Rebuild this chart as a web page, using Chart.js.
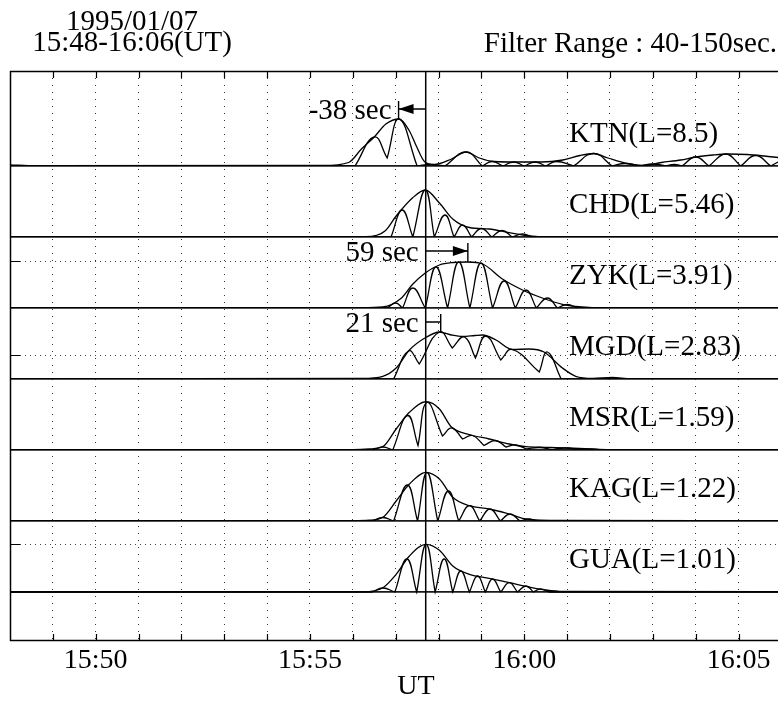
<!DOCTYPE html>
<html>
<head>
<meta charset="utf-8">
<title>1995/01/07 Pi2 filtered amplitude</title>
<script src="https://cdn.jsdelivr.net/npm/chart.js@4.4.1/dist/chart.umd.min.js"></script>
<style>
  html, body { margin: 0; padding: 0; background: #fff; overflow: hidden; }
  #wrap { width: 778px; height: 704px; }
</style>
</head>
<body>
<div id="wrap"><canvas id="chart" width="778" height="704"></canvas></div>
<script>
/*
 * Time axis: minutes after 15:48 UT.
 */
var minuteLines = [1, 2, 3, 4, 5, 6, 7, 8, 9, 10, 11, 12, 13, 14, 15, 16, 17];
var tickTimes = [2, 7, 12, 17];
var tickLabels = ["15:50", "15:55", "16:00", "16:05"];
var refTime = 9.70;

var stations = ["KTN", "CHD", "ZYK", "MGD", "MSR", "KAG", "GUA"];
var lShells = ["8.5", "5.46", "3.91", "2.83", "1.59", "1.22", "1.01"];

var lagStations = ["KTN", "ZYK", "MGD"];
var lagSeconds = [-38, 59, 21];

/*
 * Amplitudes: [minute, amplitude].
 * Wave = rectified filtered signal, envelope = its amplitude.
 */
var ktnWave = [[0, 0], [8.05, 0], [8.5, 29], [8.8, 8], [9.08, 47], [9.5, 0], [9.8, 1.5], [10.15, 0], [10.64, 14], [11.02, 0],
  [11.25, 4.5], [11.5, 0], [11.75, 4], [12.0, 0], [12.25, 4], [12.5, 0], [12.75, 4.5], [13.15, 0], [13.62, 12.5], [14.05, 0],
  [14.35, 2.5], [14.7, 0], [15.0, 2], [15.3, 0], [15.5, 1.5], [15.68, 0], [16.0, 9], [16.31, 0], [16.7, 12], [17.05, 0],
  [17.4, 10.5], [17.75, 0], [17.92, 4]];
var ktnEnvelope = [[0, 1.2], [0.6, 0.3], [7.3, 0.5], [7.9, 3.5], [8.2, 17], [8.5, 29], [8.77, 42], [9.08, 47], [9.32, 35],
  [9.47, 21], [9.68, 4], [9.9, 1.5], [10.3, 7], [10.64, 14], [10.95, 8], [11.3, 4.5], [11.8, 4], [12.4, 4], [12.9, 6],
  [13.3, 10.5], [13.62, 12.5], [13.95, 8], [14.4, 2.5], [14.75, 0.5], [15.2, 3.5], [15.65, 6], [16.0, 9], [16.4, 11],
  [16.75, 12], [17.2, 11.5], [17.6, 10], [17.92, 8.5]];

var chdWave = [[0, 0], [8.89, 0], [9.15, 27], [9.4, 0], [9.69, 47], [9.9, 0], [10.15, 22], [10.36, 0], [10.56, 12], [10.77, 0],
  [11.0, 8.5], [11.24, 0], [11.48, 6.5], [11.72, 0], [11.96, 3], [12.2, 0], [17.92, 0]];
var chdEnvelope = [[0, 0], [8.3, 0.3], [8.75, 6], [9.01, 21], [9.39, 39], [9.69, 47], [10.02, 34], [10.33, 18], [10.72, 9.5],
  [11.18, 8], [11.65, 4.3], [12.11, 1], [12.6, 0], [17.92, 0]];

var zykWave = [[0, 0], [8.8, 0], [9.0, 5], [9.16, 0], [9.4, 20], [9.69, 0], [9.94, 41], [10.21, 0], [10.47, 46], [10.73, 0],
  [10.99, 45], [11.26, 0], [11.53, 27], [11.79, 0], [12.04, 18], [12.28, 0], [12.54, 10], [12.77, 0], [13.0, 3.5], [13.24, 0],
  [17.92, 0]];
var zykEnvelope = [[0, 0], [8.2, 0.3], [8.7, 1], [9.12, 9.5], [9.39, 23.5], [9.69, 35], [10.02, 43], [10.35, 45.5],
  [10.68, 46], [11.03, 44], [11.49, 29], [11.96, 18], [12.42, 10], [12.89, 3.7], [13.35, 1], [13.8, 0], [17.92, 0]];

var mgdWave = [[0, 0], [8.95, 0], [9.3, 28], [9.55, 15], [10.02, 47], [10.32, 31], [10.6, 42], [10.86, 21], [11.1, 43],
  [11.45, 19], [11.72, 29.5], [12.35, 7], [12.54, 27], [12.86, 0], [17.92, 0]];
var mgdEnvelope = [[0, 0], [8.2, 0.5], [8.7, 2.7], [9.01, 11], [9.32, 29], [9.71, 41.7], [10.02, 47], [10.3, 44], [10.56, 42.5],
  [10.85, 43.5], [11.03, 44], [11.34, 39], [11.72, 29.5], [12.11, 30], [12.46, 27], [12.89, 11], [13.2, 2.7], [13.6, 0.5],
  [14.05, 1.5], [14.5, 0.3], [17.92, 0.3]];

var msrWave = [[0, 0], [8.45, 0], [8.7, 3], [8.93, 0], [9.28, 34.5], [9.52, 4.5], [9.73, 47.5], [10.09, 14], [10.31, 22],
  [10.56, 11], [10.79, 14.5], [11.06, 4.5], [11.33, 9.5], [11.57, 3], [11.8, 5], [12.05, 1], [12.35, 2.5], [12.65, 0.5],
  [12.95, 2], [13.25, 0.5], [13.55, 1], [13.9, 0], [17.92, 0]];
var msrEnvelope = [[0, 0], [8.0, 0.3], [8.39, 1], [8.7, 3.3], [9.01, 21], [9.32, 37.7], [9.71, 48.3], [10.02, 41], [10.3, 23],
  [10.72, 15.5], [11.18, 11], [11.65, 6], [12.04, 3.3], [12.5, 2.7], [13.04, 2], [13.51, 1], [14.0, 0.3], [17.92, 0.3]];

var kagWave = [[0, 0], [8.45, 0], [8.7, 3.5], [8.95, 0], [9.27, 36], [9.51, 0], [9.73, 48.5], [9.98, 0], [10.23, 30], [10.47, 0],
  [10.72, 15.3], [10.96, 0], [11.2, 12], [11.44, 0], [11.67, 7], [11.9, 0], [12.1, 2], [12.3, 0], [17.92, 0]];
var kagEnvelope = [[0, 0], [8.0, 0.3], [8.39, 0.8], [8.7, 3.7], [9.01, 20], [9.32, 37], [9.71, 48.7], [10.02, 42], [10.33, 23.7],
  [10.72, 15.3], [11.18, 12], [11.65, 7], [11.96, 2.7], [12.27, 1], [12.8, 0.5], [17.92, 0.3]];

var guaWave = [[0, 0], [8.45, 0], [8.7, 4], [8.98, 0], [9.26, 33], [9.49, 0], [9.71, 47.7], [9.92, 0], [10.13, 33], [10.33, 0],
  [10.52, 21], [10.72, 0], [10.91, 16], [11.09, 0], [11.26, 13], [11.45, 0], [11.65, 9.3], [11.84, 0], [12.04, 6], [12.21, 0],
  [12.38, 3], [12.58, 0], [17.92, 0]];
var guaEnvelope = [[0, 0], [8.23, 0.3], [8.7, 4.3], [9.01, 17.7], [9.32, 36], [9.71, 47.7], [10.02, 41.7], [10.33, 26],
  [10.72, 17.7], [11.18, 13.7], [11.65, 9.3], [12.11, 5], [12.5, 2], [12.9, 0.5], [17.92, 0.3]];

// dotted reference levels inside some panels
var gridLevels = { ZYK: [47], MGD: [24], GUA: [47.7] };

var waves = { KTN: ktnWave, CHD: chdWave, ZYK: zykWave, MGD: mgdWave, MSR: msrWave, KAG: kagWave, GUA: guaWave };
var envelopes = { KTN: ktnEnvelope, CHD: chdEnvelope, ZYK: zykEnvelope, MGD: mgdEnvelope, MSR: msrEnvelope, KAG: kagEnvelope, GUA: guaEnvelope };

/*
 * Panel layout (units = amplitude scale of each panel).
 */
var panelTop = { KTN: 95, CHD: 71, ZYK: 71, MGD: 71, MSR: 71, KAG: 71, GUA: 71 };
var panelBottom = { KTN: 0, CHD: 0, ZYK: 0, MGD: 0, MSR: 0, KAG: 0, GUA: -48 };
var serif = '"Liberation Serif", "Times New Roman", serif';

// minima become sharp cusps: the point is given twice so the curve turns there
function cuspPoints(list) {
	var out = [];
	for (var i = 0; i < list.length; i++) {
		var p = list[i];
		out.push({ x: p[0], y: p[1] });
		var prev = list[i - 1], next = list[i + 1];
		if (prev && next && p[1] <= prev[1] && p[1] <= next[1]) {
			out.push({ x: p[0], y: p[1] });
		}
	}
	return out;
}

function xyPoints(list) {
	return list.map(function(p) { return { x: p[0], y: p[1] }; });
}

var datasets = [];
var scales = {
	x : {
		type : 'linear',
		position : 'bottom',
		min : 0,
		max : 17.92,
		afterBuildTicks : function(axis) {
			axis.ticks = minuteLines.map(function(v) { return { value : v }; });
		},
		afterFit : function(axis) { axis.height = 64; },
		ticks : {
			autoSkip : false,
			maxRotation : 0,
			minRotation : 0,
			padding : 4,
			color : '#000',
			font : { family : serif, size : 28 },
			callback : function(value) {
				var k = tickTimes.indexOf(value);
				return k >= 0 ? tickLabels[k] : '';
			}
		},
		grid : { drawTicks : false, color : '#333', lineWidth : 1 },
		border : { display : false, dash : [1, 6] }
	}
};

stations.forEach(function(s, i) {
	var id = 'y' + s;
	var levels = gridLevels[s] || [];
	scales[id] = {
		type : 'linear',
		position : 'left',
		stack : 'panels',
		stackWeight : panelTop[s] - panelBottom[s],
		weight : stations.length - i,
		min : panelBottom[s],
		max : panelTop[s],
		afterBuildTicks : function(axis) {
			axis.ticks = [0].concat(levels).map(function(v) { return { value : v }; });
		},
		afterFit : function(axis) { axis.width = 0; },
		ticks : { display : false },
		grid : {
			drawTicks : false,
			color : function(c) { return c.tick && c.tick.value === 0 ? '#1a1a1a' : '#444'; },
			lineWidth : function(c) { return c.tick && c.tick.value === 0 ? 1.7 : 1; }
		},
		border : {
			display : false,
			dash : function(c) { return c.tick && c.tick.value !== 0 ? [1, 4] : []; }
		}
	};
	datasets.push({
		label : s + ' envelope',
		data : xyPoints(envelopes[s]),
		yAxisID : id,
		borderColor : '#000',
		borderWidth : 1.3,
		pointRadius : 0,
		fill : false,
		cubicInterpolationMode : 'monotone'
	});
	datasets.push({
		label : s,
		data : cuspPoints(waves[s]),
		yAxisID : id,
		borderColor : '#000',
		borderWidth : 1.3,
		pointRadius : 0,
		fill : false,
		tension : 0.45
	});
});

/*
 * Frame, reference line, lag arrows and all free text.
 */
var framePlugin = {
	id : 'frame',
	afterDatasetsDraw : function(chart) {
		var ctx = chart.ctx, a = chart.chartArea, xs = chart.scales.x;
		ctx.save();
		ctx.strokeStyle = '#000';
		ctx.fillStyle = '#000';

		ctx.lineWidth = 1.5;
		ctx.strokeRect(a.left + 0.5, a.top + 0.5, a.right - a.left + 20, a.bottom - a.top);

		ctx.lineWidth = 1.2;
		ctx.beginPath();
		minuteLines.forEach(function(m) {
			var px = Math.round(xs.getPixelForValue(m)) + 0.5;
			ctx.moveTo(px, a.top);
			ctx.lineTo(px, a.top + 7);
			ctx.moveTo(px, a.bottom);
			ctx.lineTo(px, a.bottom - 6);
		});
		stations.forEach(function(s) {
			(gridLevels[s] || []).forEach(function(v) {
				var py = Math.round(chart.scales['y' + s].getPixelForValue(v)) + 0.5;
				ctx.moveTo(a.left, py);
				ctx.lineTo(a.left + 10, py);
			});
		});
		ctx.stroke();

		// reference time line
		var x0 = xs.getPixelForValue(refTime);
		ctx.lineWidth = 1.5;
		ctx.beginPath();
		ctx.moveTo(x0, a.top);
		ctx.lineTo(x0, a.bottom);
		ctx.stroke();

		// lag arrows
		lagStations.forEach(function(s, i) {
			var ys = chart.scales['y' + s];
			var peak = Math.max.apply(null, envelopes[s].map(function(p) { return p[1]; }));
			var lineY = ys.getPixelForValue(57);
			var x1 = xs.getPixelForValue(refTime + lagSeconds[i] / 60);
			ctx.lineWidth = 1.4;
			ctx.beginPath();
			ctx.moveTo(x0, lineY);
			ctx.lineTo(x1, lineY);
			ctx.moveTo(x1, lineY - 8);
			ctx.lineTo(x1, ys.getPixelForValue(peak));
			ctx.stroke();
			if (Math.abs(x1 - x0) > 20) {
				var dir = x1 > x0 ? 1 : -1;
				ctx.beginPath();
				ctx.moveTo(x1, lineY);
				ctx.lineTo(x1 - dir * 15, lineY - 5);
				ctx.lineTo(x1 - dir * 15, lineY + 5);
				ctx.closePath();
				ctx.fill();
			}
			ctx.font = '29px ' + serif;
			ctx.textAlign = 'right';
			ctx.textBaseline = 'middle';
			ctx.fillText(lagSeconds[i] + ' sec', Math.min(x0, x1) - 7, lineY + 2);
		});

		// station labels
		ctx.font = '29px ' + serif;
		ctx.textAlign = 'left';
		ctx.textBaseline = 'alphabetic';
		stations.forEach(function(s, i) {
			var base = chart.scales['y' + s].getPixelForValue(0);
			ctx.fillText(s + '(L=' + lShells[i] + ')', 569, base - 24);
		});

		// header
		ctx.textAlign = 'center';
		ctx.fillText('1995/01/07', 132, 30);
		ctx.fillText('15:48-16:06(UT)', 132, 51);
		ctx.textAlign = 'right';
		ctx.fillText('Filter Range : 40-150sec.', 777, 52);

		// time axis title
		ctx.font = '28px ' + serif;
		ctx.textAlign = 'center';
		ctx.fillText('UT', 416, 694);
		ctx.restore();
	}
};

var config = {
	type : 'line',
	data : { datasets : datasets },
	options : {
		responsive : false,
		animation : false,
		events : [],
		layout : { padding : { top : 71, left : 10, right : 0, bottom : 0 } },
		scales : scales,
		plugins : { legend : { display : false }, tooltip : { enabled : false } }
	},
	plugins : [framePlugin]
};

window.onload = function() {
	var ctx = document.getElementById('chart').getContext('2d');
	window.myChart = new Chart(ctx, config);
};
</script>
</body>
</html>
